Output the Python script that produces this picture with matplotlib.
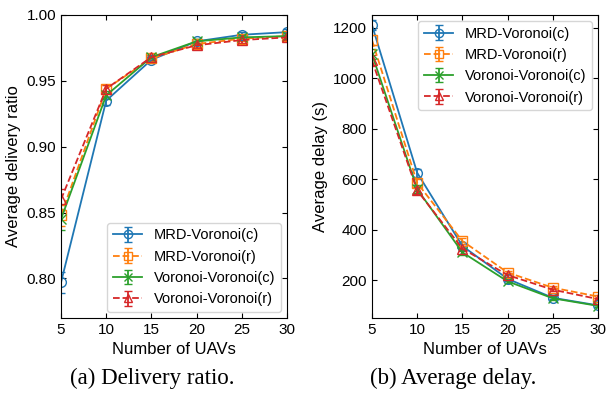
import numpy as np
import matplotlib.pyplot as plt

plt.rcParams['font.family'] = 'Liberation Sans'

uavs = [5, 10, 15, 20, 25, 30]
labels = ['MRD-Voronoi(c)', 'MRD-Voronoi(r)', 'Voronoi-Voronoi(c)', 'Voronoi-Voronoi(r)']

# delivery ratio
dr_mrd_c = [0.797, 0.935, 0.966, 0.980, 0.985, 0.987]
dr_mrd_r = [0.848, 0.944, 0.967, 0.978, 0.982, 0.984]
dr_vv_c = [0.845, 0.939, 0.968, 0.980, 0.983, 0.984]
dr_vv_r = [0.860, 0.944, 0.968, 0.977, 0.981, 0.983]
dr_err = [0.008, 0.003, 0.002, 0.002, 0.002, 0.002]

# average delay
d_mrd_c = [1210, 625, 335, 205, 130, 100]
d_mrd_r = [1150, 585, 355, 230, 170, 135]
d_vv_c = [1095, 560, 310, 195, 128, 98]
d_vv_r = [1070, 555, 325, 220, 162, 125]
d_err = [20, 15, 10, 8, 6, 5]

colors = ['#1f77b4', '#ff7f0e', '#2ca02c', '#d62728']
markers = ['o', 's', 'x', '^']
styles = ['-', '--', '-', '--']

fig = plt.figure(figsize=(6.06, 3.97), dpi=100)
ax1 = fig.add_axes([61/606, 1-318/397, 226/606, 303/397])
ax2 = fig.add_axes([372/606, 1-318/397, 226/606, 303/397])


def draw(ax, series, err):
    for s, c, m, ls, lab in zip(series, colors, markers, styles, labels):
        ax.errorbar(uavs, s, yerr=err, color=c, marker=m, linestyle=ls, label=lab,
                    markerfacecolor='none', markersize=7, capsize=3, linewidth=1.3)
    ax.set_xlim(5, 30)
    ax.set_xticks(uavs)
    ax.tick_params(direction='in', top=True, right=True, labelsize=11)
    ax.set_xlabel('Number of UAVs', fontsize=12)


draw(ax1, [dr_mrd_c, dr_mrd_r, dr_vv_c, dr_vv_r], dr_err)
ax1.set_ylim(0.77, 1.0)
ax1.set_yticks([0.80, 0.85, 0.90, 0.95, 1.00])
ax1.set_ylabel('Average delivery ratio', fontsize=12)
ax1.legend(loc='lower right', fontsize=10.5, handlelength=2.0, labelspacing=0.5,
           borderaxespad=0.4, markerscale=0.85)

draw(ax2, [d_mrd_c, d_mrd_r, d_vv_c, d_vv_r], d_err)
ax2.set_ylim(50, 1250)
ax2.set_yticks([200, 400, 600, 800, 1000, 1200])
ax2.set_ylabel('Average delay (s)', fontsize=12)
ax2.legend(loc='upper right', fontsize=10.5, handlelength=2.0, labelspacing=0.5,
           borderaxespad=0.4, markerscale=0.85)

fig.text(152/606, 1-378/397, '(a) Delivery ratio.', ha='center', va='center',
         fontsize=16.5, family='Liberation Serif')
fig.text(453/606, 1-378/397, '(b) Average delay.', ha='center', va='center',
         fontsize=16.5, family='Liberation Serif')

fig.savefig('out.png', dpi=100)
